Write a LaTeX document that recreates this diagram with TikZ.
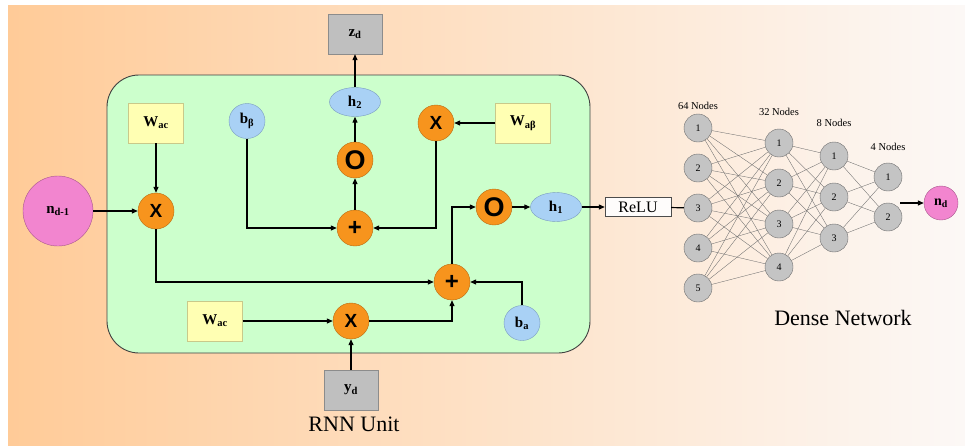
\documentclass[tikz,border=0pt]{standalone}
\usepackage{fontspec}
\setmainfont{Liberation Serif}
\newfontfamily\opfont{Liberation Sans}
\usepackage{tikz}
\usetikzlibrary{positioning, arrows.meta, shapes.geometric}
\definecolor{rnnOrange}{HTML}{F7941D}
\definecolor{rnnOrangeDk}{HTML}{B86A10}
\definecolor{rnnBlue}{HTML}{A9D1F5}
\definecolor{rnnBlueDk}{HTML}{7A9CC0}
\definecolor{rnnYellow}{HTML}{FFFFB3}
\definecolor{rnnYellowDk}{HTML}{C9C98A}
\definecolor{rnnGray}{HTML}{BFBFBF}
\definecolor{rnnGrayDk}{HTML}{8C8C8C}
\definecolor{rnnPink}{HTML}{F285CF}
\definecolor{rnnPinkDk}{HTML}{A8568C}
\definecolor{rnnGreen}{HTML}{CCFFCC}
\definecolor{bgOrange}{HTML}{FFCB98}
\definecolor{bgWhite}{HTML}{FCF8F6}
\definecolor{netGray}{HTML}{C4C4C4}
\definecolor{netLine}{HTML}{6E6E6E}
\newcommand{\lbl}[2]{\textbf{#1\textsubscript{#2}}}

\begin{document}
\begin{tikzpicture}[x=1pt, y=-1pt,
    arr/.style={-{Triangle[length=6pt, width=5pt]}, line width=1.2pt},
    op/.style={circle, draw=rnnOrangeDk, fill=rnnOrange, minimum size=36pt, inner sep=0pt, font=\opfont\bfseries},
    wbox/.style={draw=rnnYellowDk, fill=rnnYellow, minimum width=55pt, minimum height=40pt, font=\fontsize{15}{15}\selectfont},
    iobox/.style={draw=rnnGrayDk, fill=rnnGray, minimum width=54pt, minimum height=40pt, font=\fontsize{15}{15}\selectfont},
    hnode/.style={ellipse, draw=rnnBlueDk, fill=rnnBlue, minimum width=51pt, minimum height=29pt, inner sep=0pt, font=\fontsize{15}{15}\selectfont},
    bnode/.style={ellipse, draw=rnnBlueDk, fill=rnnBlue, minimum width=36pt, minimum height=35pt, inner sep=0pt, font=\fontsize{15}{15}\selectfont},
    neuron/.style={circle, draw=netLine, fill=netGray, minimum size=28pt, inner sep=0pt, font=\fontsize{10}{10}\selectfont},
    layertxt/.style={font=\fontsize{10.5}{10.5}\selectfont}]
  % background
  \useasboundingbox (0,0) rectangle (965,445);
  \fill[white] (0,0) rectangle (965,445);
  \shade[left color=bgOrange, right color=bgWhite] (8,5) rectangle (965,445);

  % RNN unit
  \node[draw=black!75, fill=rnnGreen, rounded corners=32pt, line width=0.9pt,
        minimum width=483pt, minimum height=278pt] (cell) at (348.5,214) {};
  \node[circle, draw=rnnPinkDk, fill=rnnPink, minimum size=70pt, inner sep=0pt,
        font=\fontsize{15}{15}\selectfont] (nprev) at (58,211) {\lbl{n}{d-1}};
  \node[wbox] (wacA) at (156,123) {\lbl{W}{ac}};
  \node[op, font=\opfont\bfseries\fontsize{19}{19}\selectfont] (mulA) at (156,211) {X};
  \node[bnode] (bbeta) at (247,121) {\lbl{b}{β}};
  \node[op, font=\opfont\bfseries\fontsize{24}{24}\selectfont] (addA) at (355,228) {+};
  \node[op, font=\opfont\bfseries\fontsize{27}{27}\selectfont] (actA) at (355,160) {O};
  \node[hnode] (htwo) at (355,102) {\lbl{h}{2}};
  \node[iobox] (zd) at (355,34) {\lbl{z}{d}};
  \node[op, font=\opfont\bfseries\fontsize{19}{19}\selectfont] (mulB) at (436,123) {X};
  \node[wbox] (wab) at (523,123) {\lbl{W}{aβ}};
  \node[op, font=\opfont\bfseries\fontsize{24}{24}\selectfont] (addB) at (452,282) {+};
  \node[op, font=\opfont\bfseries\fontsize{27}{27}\selectfont] (actB) at (494,207) {O};
  \node[hnode] (hone) at (556,207) {\lbl{h}{1}};
  \node[bnode] (ba) at (522,323) {\lbl{b}{a}};
  \node[wbox] (wacB) at (215,321) {\lbl{W}{ac}};
  \node[op, font=\opfont\bfseries\fontsize{19}{19}\selectfont] (mulC) at (351,321) {X};
  \node[iobox] (yd) at (351,390) {\lbl{y}{d}};
  \node[font=\fontsize{22}{22}\selectfont] (rnnlbl) at (354,424) {RNN Unit};

  \draw[arr] (nprev) -- (mulA);
  \draw[arr] (wacA) -- (mulA);
  \draw[arr] (mulA) |- (addB);
  \draw[arr] (wacB) -- (mulC);
  \draw[arr] (yd) -- (mulC);
  \draw[arr] (mulC) -| (addB);
  \draw[arr] (ba) |- (addB);
  \draw[arr] (addB) |- (actB);
  \draw[arr] (actB) -- (hone);
  \draw[arr] (bbeta) |- (addA);
  \draw[arr] (mulB) |- (addA);
  \draw[arr] (wab) -- (mulB);
  \draw[arr] (addA) -- (actA);
  \draw[arr] (actA) -- (htwo);
  \draw[arr] (htwo) -- (zd);

  % dense network
  \node[draw=black!70, fill=white!60!bgWhite, minimum width=66pt, minimum height=19pt,
        inner sep=0pt, font=\fontsize{16}{16}\selectfont] (relu) at (638,207) {ReLU};
  \draw[arr] (hone) -- (relu);
  \foreach \lay/\x/\ys in {1/698/{128,168,208,248,288}, 2/779/{143,183,224,267},
                            3/834/{156,197,238}, 4/888/{177,217}} {
    \foreach \y [count=\i] in \ys
      \node[neuron] (l\lay n\i) at (\x,\y) {\i};
  }
  \foreach \a/\na/\b/\nb in {1/5/2/4, 2/4/3/3, 3/3/4/2} {
    \foreach \i in {1,...,\na}
      \foreach \j in {1,...,\nb}
        \draw[netLine, line width=0.35pt] (l\a n\i) -- (l\b n\j);
  }
  \node[layertxt] (lab1) at (698,106) {64 Nodes};
  \node[layertxt] (lab2) at (779,112) {32 Nodes};
  \node[layertxt] (lab3) at (834,123) {8 Nodes};
  \node[layertxt] (lab4) at (888,147) {4 Nodes};
  \draw[line width=1.2pt] (relu) -- (l1n3);
  \node[circle, draw=rnnPinkDk, fill=rnnPink, minimum size=34pt, inner sep=0pt,
        font=\fontsize{14}{14}\selectfont] (nd) at (941,203) {\lbl{n}{d}};
  \coordinate (outstart) at (900,203);
  \draw[arr] (outstart) -- (nd);
  \node[font=\fontsize{22}{22}\selectfont] (denselbl) at (843,318) {Dense Network};
\end{tikzpicture}
\end{document}
